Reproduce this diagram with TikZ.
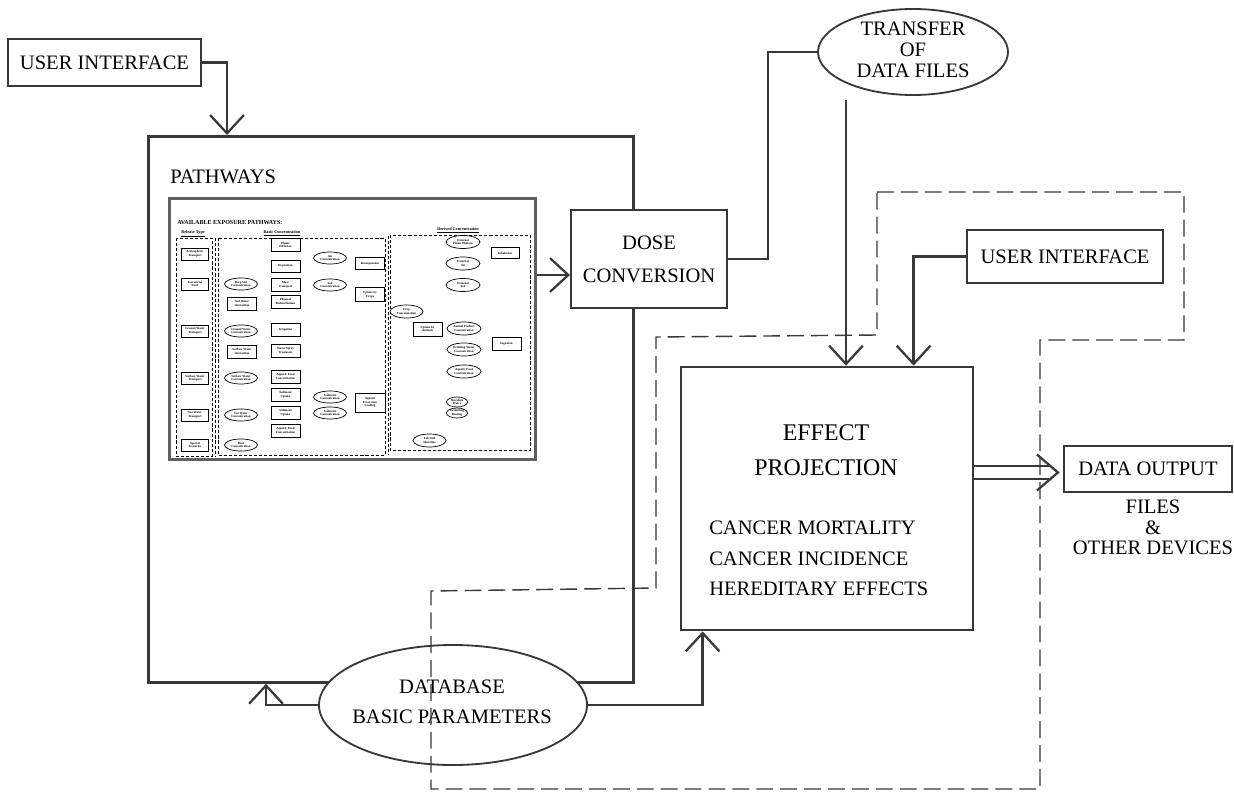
\documentclass[tikz,border=0pt]{standalone}
\usepackage{fontspec}
\setmainfont{Liberation Serif}
\usetikzlibrary{arrows.meta,shapes.geometric,calc}
\newlength\pxu
\setlength\pxu{0.025cm}
\definecolor{ink}{gray}{0.22}

\begin{document}
\begin{tikzpicture}[x=0.025cm, y=-0.025cm,
  ln/.style={draw=ink, line width=1.6pt},
  arr/.style={ln, -{Straight Barb[length=13pt, width=24pt]}},
  bigbox/.style={draw=ink, line width=1.8pt, fill=white, rectangle, inner sep=0pt},
  lbl/.style={font=\fontsize{14.6}{15}\selectfont, align=center, inner sep=0pt},
  bnd/.style={draw=ink, line width=1pt, dash pattern=on 12pt off 5pt},
  tinyfont/.style={font=\fontsize{2.2}{2.5}\selectfont\bfseries},
  sbox/.style={draw=black, line width=0.5pt, rectangle, fill=white, minimum width=27\pxu,
    minimum height=12\pxu, inner sep=0pt, align=center, tinyfont},
  sell/.style={draw=black, line width=0.5pt, ellipse, fill=white, minimum width=33\pxu,
    minimum height=12\pxu, inner sep=0pt, align=center, tinyfont},
  scol/.style={draw=black, line width=0.45pt, dash pattern=on 2.2pt off 1.4pt},
]
\useasboundingbox (0,0) rectangle (1234,795);
\fill[white] (0,0) rectangle (1234,795);

% ---------- main blocks ----------
\node[bigbox, line width=1.5pt, minimum width=193\pxu, minimum height=47\pxu] (ui1) at (104.5,62.5) {};
\node[lbl] at (ui1) {USER INTERFACE};

\node[bigbox, line width=2pt, minimum width=485\pxu, minimum height=546\pxu, anchor=north west] (path) at (147,135) {};
\node[lbl, anchor=west] (ptitle) at (170,177) {PATHWAYS};

% screenshot of the pathway selection screen
\node[draw=ink!80, line width=2pt, rectangle, inner sep=0pt, minimum width=366\pxu, minimum height=261\pxu, anchor=north west] (shot) at (168,197) {};

\node[anchor=west, inner sep=0pt, font=\fontsize{4.3}{5}\selectfont\bfseries] (stitle) at (177,223) {AVAILABLE EXPOSURE PATHWAYS:};

% columns
\draw[scol] (176,238) rectangle (212,456);
\draw[scol] (215,238) -- (215,456);
\draw[scol] (218,238) rectangle (385,455);
\draw[scol] (388,236) -- (388,455);
\draw[scol] (390,235) rectangle (530,450);
\node[tinyfont, font=\fontsize{3}{3.5}\selectfont\bfseries, inner sep=0pt] (h1) at (193,233.5) {\underline{Release Type}};
\node[tinyfont, font=\fontsize{3}{3.5}\selectfont\bfseries, inner sep=0pt] (h2) at (282,233.5) {\underline{Basic Concentration}};
\node[tinyfont, font=\fontsize{3}{3.5}\selectfont\bfseries, inner sep=0pt] (h3) at (458,230.5) {\underline{Derived Concentration}};

% release types
\node[sbox] (r1) at (195,254) {Atmospheric\\Transport};
\node[sbox] (r2) at (195,284) {Terrestrial\\Food};
\node[sbox] (r3) at (195,331) {Ground Water\\Transport};
\node[sbox] (r4) at (195,378) {Surface Water\\Transport};
\node[sbox] (r5) at (195,415) {Sea Water\\Transport};
\node[sbox] (r6) at (195,445) {Special\\Scenarios};

% basic concentrations
\node[sell] (b1) at (241,284) {Deep Soil\\Concentration};
\node[sbox, minimum width=29\pxu, minimum height=13\pxu] (b2) at (242,303.5) {Soil Water\\Interaction};
\node[sell] (b3) at (241,331) {Ground Water\\Concentration};
\node[sbox, minimum width=29\pxu, minimum height=13\pxu] (b4) at (242,351.5) {Surface Water\\Interaction};
\node[sell] (b5) at (241,378) {Surface Water\\Concentration};
\node[sell] (b6) at (241,415) {Sea Water\\Concentration};
\node[sell] (b7) at (241,445) {Dust\\Concentration};

\node[sbox, minimum width=29\pxu, minimum height=13\pxu] (m1) at (285.5,245) {Plume\\Diffusion};
\node[sbox, minimum width=29\pxu, minimum height=12\pxu] (m2) at (285.5,266) {Deposition};
\node[sbox, minimum width=29\pxu, minimum height=13\pxu] (m3) at (285.5,285) {Mass\\Transport};
\node[sbox, minimum width=29\pxu, minimum height=13\pxu] (m4) at (285.5,301.5) {Physical\\Redistribution};
\node[sbox, minimum width=29\pxu, minimum height=13\pxu] (m5) at (285.5,330) {Irrigation};
\node[sbox, minimum width=29\pxu, minimum height=13\pxu] (m6) at (285.5,350.5) {Water Spray\\Treatment};
\node[sbox, minimum width=29\pxu, minimum height=13\pxu] (m7) at (285.5,376.5) {Aquatic Food\\Concentration};
\node[sbox, minimum width=29\pxu, minimum height=13\pxu] (m8) at (285.5,395) {Sediment\\Uptake};
\node[sbox, minimum width=29\pxu, minimum height=13\pxu] (m9) at (285.5,413) {Sediment\\Uptake};
\node[sbox, minimum width=29\pxu, minimum height=13\pxu] (m10) at (285.5,430.5) {Aquatic Food\\Concentration};

\node[sell] (c1) at (330,258) {Air\\Concentration};
\node[sell] (c2) at (330,285) {Soil\\Concentration};
\node[sell] (c3) at (330,397) {Sediment\\Concentration};
\node[sell] (c4) at (330,413) {Sediment\\Concentration};

\node[sbox, minimum width=29\pxu, minimum height=12\pxu] (d1) at (370,263.5) {Resuspension};
\node[sbox, minimum width=29\pxu, minimum height=14\pxu] (d2) at (370,294.5) {Uptake by\\Crops};
\node[sbox, minimum width=30\pxu, minimum height=19\pxu] (d3) at (370,402.5) {Aquatic\\Ecosystem\\Loading};

% derived concentrations
\node[sell, minimum width=34\pxu, minimum height=13\pxu] (e1) at (463,242) {External\\Plume Photons};
\node[sell, minimum width=34\pxu, minimum height=13\pxu] (e2) at (463,263.5) {External\\Air};
\node[sell, minimum width=34\pxu, minimum height=13\pxu] (e3) at (463,285) {External\\Soil};
\node[sbox, minimum width=28\pxu, minimum height=11\pxu] (e4) at (505,253) {Inhalation};
\node[sell, minimum width=33\pxu, minimum height=13\pxu] (e5) at (406.5,311.5) {Crop\\Concentration};
\node[sbox, minimum width=29\pxu, minimum height=14\pxu] (e6) at (427.5,329) {Uptake by\\Animals};
\node[sell, minimum width=34\pxu, minimum height=13\pxu] (e7) at (464,328.5) {Animal Product\\Concentration};
\node[sell, minimum width=34\pxu, minimum height=13\pxu] (e8) at (464,349.5) {Drinking Water\\Concentration};
\node[sbox, minimum width=29\pxu, minimum height=13\pxu] (e9) at (506.5,343.5) {Ingestion};
\node[sell, minimum width=34\pxu, minimum height=13\pxu] (e10) at (464,371.5) {Aquatic Food\\Concentration};
\node[sell, minimum width=21\pxu, minimum height=10\pxu] (e11) at (457,402) {Shoreline\\Water};
\node[sell, minimum width=21\pxu, minimum height=10\pxu] (e12) at (457,413) {Swimming\\Boating};
\node[sell, minimum width=33\pxu, minimum height=13\pxu] (e13) at (429.5,440.5) {External\\Shoreline};

% dose conversion (drawn over the right edge of the pathways frame)
\node[bigbox, line width=1.5pt, minimum width=156\pxu, minimum height=98\pxu] (dose) at (649,259) {};
\node[lbl, font=\fontsize{14.6}{23.5}\selectfont] at (dose) {DOSE\\CONVERSION};

\node[draw=ink, line width=1.3pt, ellipse, fill=white, inner sep=0pt, minimum width=190\pxu, minimum height=86\pxu] (xfer) at (913,52) {};
\node[lbl, font=\fontsize{14.6}{15}\selectfont] at (913,50) {TRANSFER\\OF\\DATA FILES};

\node[bigbox, line width=1.5pt, minimum width=196\pxu, minimum height=53\pxu] (ui2) at (1065,256.5) {};
\node[lbl] at (ui2) {USER INTERFACE};

\node[bigbox, line width=2pt, minimum width=292\pxu, minimum height=263\pxu] (eff) at (827,498.5) {};
\node[lbl, font=\fontsize{17}{25}\selectfont] (efft) at (826,450.5) {EFFECT\\PROJECTION};
\node[lbl, font=\fontsize{14.6}{21.7}\selectfont, align=left, anchor=west] (effl) at (709,558.5) {CANCER MORTALITY\\CANCER INCIDENCE\\HEREDITARY EFFECTS};

\node[bigbox, line width=1.5pt, minimum width=168\pxu, minimum height=46\pxu] (out) at (1148,469) {};
\node[lbl] at (out) {DATA OUTPUT};
\node[lbl, font=\fontsize{14.6}{14.6}\selectfont] (outl) at (1153,527.5) {FILES\\\&\\OTHER DEVICES};

\node[draw=ink, line width=1.3pt, ellipse, fill=white, inner sep=0pt, minimum width=268\pxu, minimum height=120\pxu] (db) at (453,705) {};
\node[lbl, font=\fontsize{14.6}{21.3}\selectfont] at (452,702) {DATABASE\\BASIC PARAMETERS};

% ---------- connectors ----------
\coordinate (ay) at (0,275);
\coordinate (xf) at (846,100);
\coordinate (dy) at (0,472.5);

\draw[arr] (ui1.east) -| ($(path.north west)+(80,0)$);
\draw[arr] (shot.east |- ay) -- (dose.west |- ay);
\draw[ln] (dose.east) -- ++(40,0) |- (xfer.west);
\draw[arr] (xf) -- (xf |- eff.north);
\draw[arr] (ui2.west) -| ($(eff.north west)+(234,0)$);
\draw[arr] (db.west) -| ($(path.south west)+(119,0)$);
\draw[arr] (db.east) -| ($(eff.south west)+(23,0)$);

% double output arrow
\draw[draw=ink, line width=1.4pt, double distance=8pt] (eff.east |- dy) -- ($(out.west |- dy)+(-14,0)$);
\draw[ln, line join=miter] ($(out.west |- dy)+(-26,-18)$) -- ($(out.west |- dy)+(-5,0)$) -- ($(out.west |- dy)+(-26,18)$);

% dashed boundary
\draw[bnd] (877,192) -- (1184,192) -- (1184,340) -- (1040,340) -- (1040,789)
  -- (431,789) -- (431,591) -- (656,588) -- (656,337) -- (877,335) -- cycle;
\end{tikzpicture}
\end{document}
